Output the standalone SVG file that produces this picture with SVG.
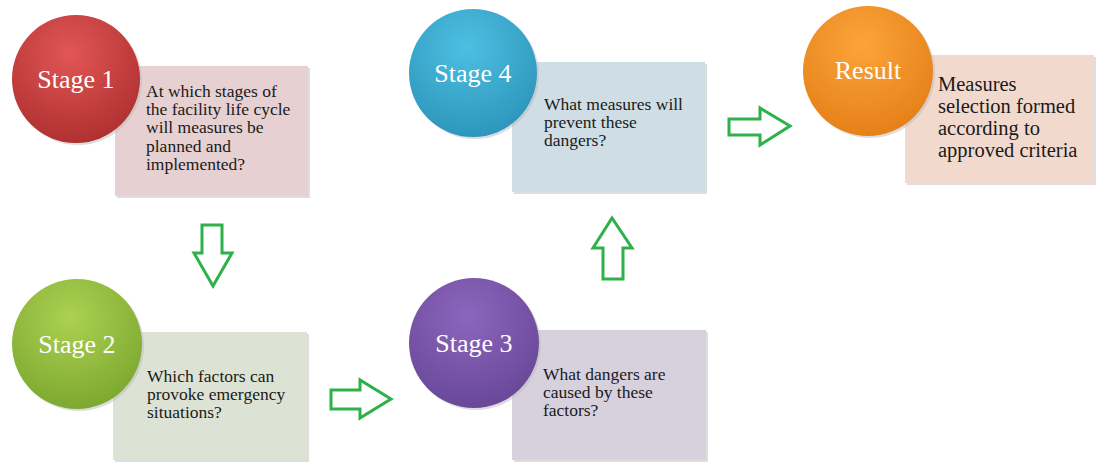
<svg xmlns="http://www.w3.org/2000/svg" width="1096" height="463" viewBox="0 0 1096 463">
<style>
.box{stroke:none}
.shadow{fill:#c8c8c8;opacity:0.6}
.lbl{font-family:"Liberation Serif","Times New Roman",serif;font-size:26px;fill:#ffffff;text-anchor:middle}
.q{font-family:"Liberation Serif","Times New Roman",serif;font-size:17.5px;fill:#1a1a1a}
.r{font-family:"Liberation Serif","Times New Roman",serif;font-size:20.5px;fill:#1a1a1a}
.arrow{fill:#ffffff;stroke:#2eb04a;stroke-width:3;stroke-linejoin:miter}
</style>
<defs>
<radialGradient id="gRed" cx="45%" cy="30%" r="75%">
<stop offset="0" stop-color="#e25656"/><stop offset="1" stop-color="#ad2e2e"/>
</radialGradient>
<radialGradient id="gGreen" cx="45%" cy="30%" r="75%">
<stop offset="0" stop-color="#acd152"/><stop offset="1" stop-color="#7aa62e"/>
</radialGradient>
<radialGradient id="gPurple" cx="45%" cy="30%" r="75%">
<stop offset="0" stop-color="#8d66bd"/><stop offset="1" stop-color="#674696"/>
</radialGradient>
<radialGradient id="gBlue" cx="45%" cy="30%" r="75%">
<stop offset="0" stop-color="#4cc0e2"/><stop offset="1" stop-color="#2c93b9"/>
</radialGradient>
<radialGradient id="gOrange" cx="45%" cy="30%" r="75%">
<stop offset="0" stop-color="#fba43a"/><stop offset="1" stop-color="#e47e16"/>
</radialGradient>
</defs>

<g id="connectors">
<path class="arrow" d="M202,225 L222,225 L222,253 L232,253 L213,286 L194,253 L202,253 Z"/>
<path class="arrow" d="M331,390 L360,390 L360,380 L391,399 L360,418 L360,409 L331,409 Z"/>
<path class="arrow" d="M603,279 L603,248 L593,248 L612,218 L632,248 L623,248 L623,279 Z"/>
<path class="arrow" d="M729,119 L760,119 L760,108 L790,126 L760,145 L760,135 L729,135 Z"/>
</g>

<g id="stage1">
<rect class="shadow" x="117" y="68" width="193" height="130"/>
<rect class="box" x="115" y="66" width="193" height="130" fill="#e6d0d1"/>
<circle cx="78" cy="81" r="64" fill="#bbbbbb" opacity="0.5"/>
<circle cx="76" cy="79" r="64" fill="url(#gRed)"/>
<text class="lbl" x="76" y="88">Stage 1</text>
<text class="q" x="146" y="97">At which stages of</text>
<text class="q" x="146" y="115">the facility life cycle</text>
<text class="q" x="146" y="133">will measures be</text>
<text class="q" x="146" y="152">planned and</text>
<text class="q" x="146" y="170">implemented?</text>
</g>

<g id="stage2">
<rect class="shadow" x="115" y="334" width="194" height="128"/>
<rect class="box" x="113" y="332" width="194" height="128" fill="#dde3d4"/>
<circle cx="79" cy="346" r="65" fill="#bbbbbb" opacity="0.5"/>
<circle cx="77" cy="344" r="65" fill="url(#gGreen)"/>
<text class="lbl" x="77" y="353">Stage 2</text>
<text class="q" x="147" y="382">Which factors can</text>
<text class="q" x="147" y="400">provoke emergency</text>
<text class="q" x="147" y="418">situations?</text>
</g>

<g id="stage3">
<rect class="shadow" x="514" y="332" width="194" height="130"/>
<rect class="box" x="512" y="330" width="194" height="130" fill="#d6d1dd"/>
<circle cx="476" cy="345" r="65" fill="#bbbbbb" opacity="0.5"/>
<circle cx="474" cy="343" r="65" fill="url(#gPurple)"/>
<text class="lbl" x="474" y="352">Stage 3</text>
<text class="q" x="543" y="380">What dangers are</text>
<text class="q" x="543" y="398">caused by these</text>
<text class="q" x="543" y="416">factors?</text>
</g>

<g id="stage4">
<rect class="shadow" x="514" y="64" width="193" height="130"/>
<rect class="box" x="512" y="62" width="193" height="130" fill="#cfdde5"/>
<circle cx="475" cy="75" r="64" fill="#bbbbbb" opacity="0.5"/>
<circle cx="473" cy="73" r="64" fill="url(#gBlue)"/>
<text class="lbl" x="473" y="82">Stage 4</text>
<text class="q" x="544" y="110">What measures will</text>
<text class="q" x="544" y="128">prevent these</text>
<text class="q" x="544" y="146">dangers?</text>
</g>

<g id="result">
<rect class="shadow" x="907" y="57" width="189" height="128"/>
<rect class="box" x="905" y="55" width="189" height="128" fill="#f2d9cd"/>
<circle cx="870" cy="73" r="65" fill="#bbbbbb" opacity="0.5"/>
<circle cx="868" cy="71" r="65" fill="url(#gOrange)"/>
<text class="lbl" x="868" y="79">Result</text>
<text class="r" x="938" y="91">Measures</text>
<text class="r" x="938" y="113">selection formed</text>
<text class="r" x="938" y="135">according to</text>
<text class="r" x="938" y="157">approved criteria</text>
</g>
</svg>
